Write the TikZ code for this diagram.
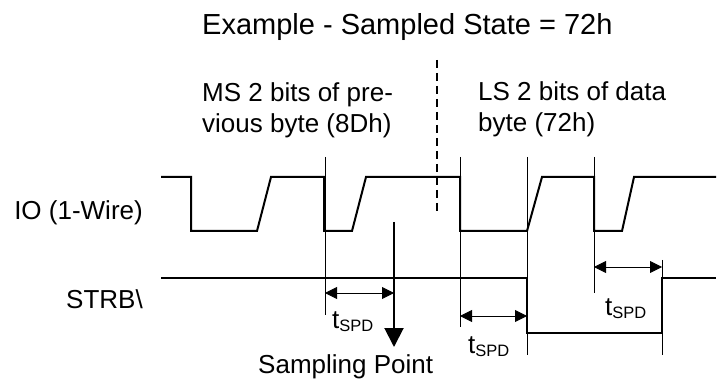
\documentclass[tikz,border=0pt]{standalone}
\usepackage{fontspec}
\setmainfont{Liberation Sans}
\usetikzlibrary{arrows.meta}
\newcommand\tspdlabel{t\raisebox{-3.5pt}{\fontsize{16.5}{16.5}\selectfont SPD}}
\begin{document}
\begin{tikzpicture}[x=1pt,y=-1pt,
  sig/.style={line width=2pt, line join=miter},
  guide/.style={line width=0.9pt},
  dimarrow/.style={line width=0.9pt, {Triangle[length=12pt,width=12pt]}-{Triangle[length=12pt,width=12pt]}},
  lbl/.style={inner sep=0pt, anchor=base west, font=\fontsize{26}{31}\selectfont},
  tlbl/.style={inner sep=0pt, anchor=base west, font=\fontsize{26}{31}\selectfont},
]
\useasboundingbox (0,0) rectangle (717,379);

% texts
\node[lbl, font=\fontsize{29}{34}\selectfont] (title) at (202,35) {Example - Sampled State = 72h};
\node[lbl] (ms) at (202,102) {\begin{tabular}[t]{@{}l@{}}MS 2 bits of pre-\\vious byte (8Dh)\end{tabular}};
\node[lbl] (ls) at (478,101) {\begin{tabular}[t]{@{}l@{}}LS 2 bits of data\\byte (72h)\end{tabular}};
\node[lbl, anchor=base east] (io) at (143,220) {IO (1-Wire)};
\node[lbl, anchor=base east] (strb) at (143,308) {STRB\textbackslash};
\node[lbl] (samp) at (258,373) {Sampling Point};
\node[tlbl] (t1) at (332,328) {\tspdlabel};
\node[tlbl] (t2) at (468,353) {\tspdlabel};
\node[tlbl] (t3) at (605,315) {\tspdlabel};

% IO waveform
\draw[sig] (161,177) -- (191,177) -- (191,231) -- (257,231) -- (271,177) -- (324,177)
  -- (324,231) -- (352,231) -- (366,177) -- (460,177) -- (460,231) -- (527,231)
  -- (542,177) -- (594,177) -- (594,231) -- (622,231) -- (634,177) -- (716,177);

% STRB waveform
\draw[sig] (161,278) -- (527,278) -- (527,333) -- (662,333) -- (662,278) -- (716,278);

% separator
\draw[line width=2pt, dash pattern=on 8pt off 5pt] (437,60) -- (437,215);

% guide lines
\coordinate (g1t) at (325,157); \coordinate (g1b) at (325,315);
\coordinate (g2t) at (460,157); \coordinate (g2b) at (460,327);
\coordinate (g3t) at (527,157); \coordinate (g3b) at (527,355);
\coordinate (g4t) at (594,157); \coordinate (g4b) at (594,293);
\coordinate (g5t) at (662,260); \coordinate (g5b) at (662,355);
\draw[guide] (g1t) -- (g1b);
\draw[guide] (g2t) -- (g2b);
\draw[guide] (g3t) -- (g3b);
\draw[guide] (g4t) -- (g4b);
\draw[guide] (g5t) -- (g5b);

% dimension arrows
\coordinate (a1l) at (325,293); \coordinate (a1r) at (394,293);
\coordinate (a2l) at (460,316); \coordinate (a2r) at (527,316);
\coordinate (a3l) at (594,267); \coordinate (a3r) at (662,267);
\draw[dimarrow] (a1l) -- (a1r);
\draw[dimarrow] (a2l) -- (a2r);
\draw[dimarrow] (a3l) -- (a3r);

% sampling point arrow
\coordinate (sp0) at (394,222); \coordinate (sp1) at (394,347);
\draw[line width=2pt, -{Triangle[length=19pt,width=19pt]}] (sp0) -- (sp1);
\end{tikzpicture}
\end{document}
